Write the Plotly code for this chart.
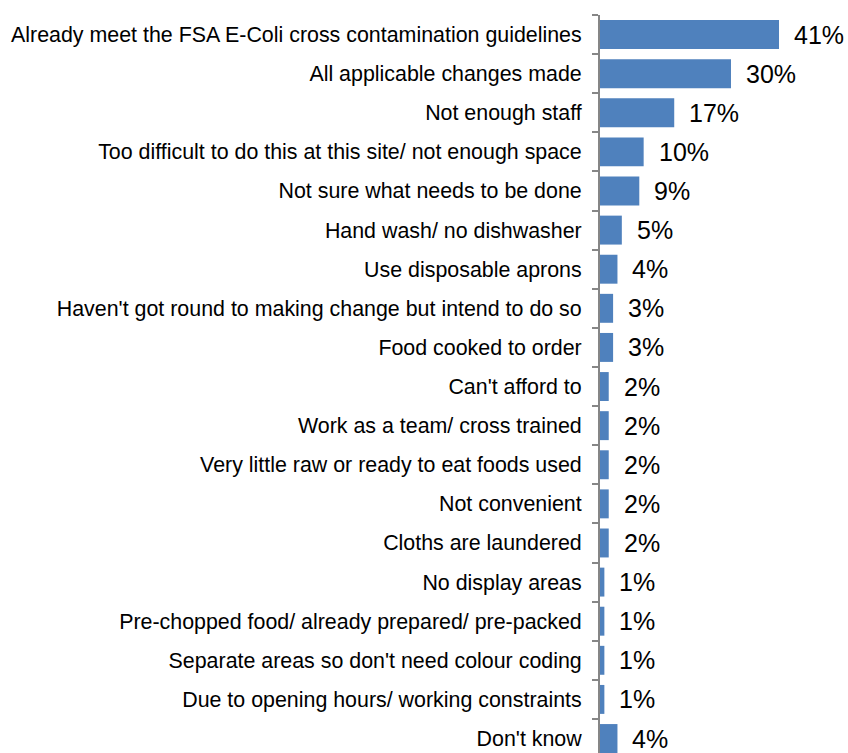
import plotly.graph_objects as go

categories = [
    "Already meet the FSA E-Coli cross contamination guidelines",
    "All applicable changes made",
    "Not enough staff",
    "Too difficult to do this at this site/ not enough space",
    "Not sure what needs to be done",
    "Hand wash/ no dishwasher",
    "Use disposable aprons",
    "Haven't got round to making change but intend to do so",
    "Food cooked to order",
    "Can't afford to",
    "Work as a team/ cross trained",
    "Very little raw or ready to eat foods used",
    "Not convenient",
    "Cloths are laundered",
    "No display areas",
    "Pre-chopped food/ already prepared/ pre-packed",
    "Separate areas so don't need colour coding",
    "Due to opening hours/ working constraints",
    "Don't know",
]
values = [41, 30, 17, 10, 9, 5, 4, 3, 3, 2, 2, 2, 2, 2, 1, 1, 1, 1, 4]
value_labels = [f"{v}%" for v in values]

FONT = "Liberation Sans, Arial, sans-serif"

fig = go.Figure(
    go.Bar(
        x=values,
        y=categories,
        orientation="h",
        marker=dict(color="#4F81BD", line=dict(width=0)),
        hoverinfo="skip",
    )
)

for cat, v, lab in zip(categories, values, value_labels):
    fig.add_annotation(
        x=v, y=cat, text=lab, showarrow=False,
        xanchor="left", yanchor="middle", xshift=13,
        font=dict(family=FONT, size=25, color="#000000"),
    )

fig.update_layout(
    width=848,
    height=753,
    margin=dict(l=600, r=0, t=15, b=0),
    paper_bgcolor="white",
    plot_bgcolor="white",
    bargap=0.26,
    showlegend=False,
    font=dict(family=FONT, size=21.4, color="#000000"),
)

fig.update_xaxes(
    range=[0, 56.8],
    visible=False,
)

fig.update_yaxes(
    type="category",
    categoryorder="array",
    categoryarray=categories,
    range=[18.37, -0.5],
    showline=True,
    linecolor="#868686",
    linewidth=2,
    ticks="outside",
    ticklen=6,
    tickwidth=2,
    tickcolor="#868686",
    tickson="boundaries",
    ticklabelstandoff=12,
    showgrid=False,
    zeroline=False,
    tickfont=dict(family=FONT, size=21.4, color="#000000"),
)

fig.write_html("out.html")
